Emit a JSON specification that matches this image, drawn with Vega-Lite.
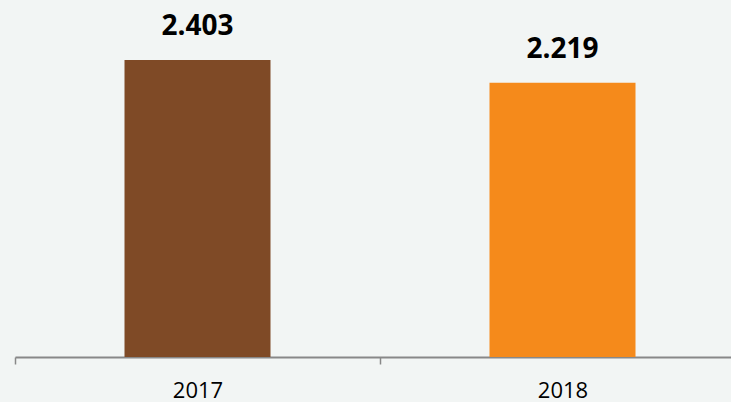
{
  "$schema": "https://vega.github.io/schema/vega-lite/v6.json",
  "width": 730,
  "height": 346,
  "padding": {"left": 15, "top": 11, "right": 0, "bottom": 45},
  "autosize": {"type": "none"},
  "background": "#f2f5f4",
  "config": {"view": {"stroke": null}},
  "data": {"values": [
    {"year": "2017", "value": 2.403, "label": "2.403"},
    {"year": "2018", "value": 2.219, "label": "2.219"}
  ]},
  "encoding": {
    "x": {
      "field": "year", "type": "nominal",
      "scale": {"paddingInner": 0, "paddingOuter": 0},
      "axis": {
        "title": null, "labelAngle": 0, "tickBand": "extent",
        "domainColor": "#888888", "domainWidth": 2,
        "tickColor": "#888888", "tickWidth": 1.5, "tickSize": 7,
        "labelFont": "Open Sans", "labelFontSize": 22, "labelColor": "#000000",
        "labelBaseline": "alphabetic", "labelPadding": 33
      }
    },
    "y": {
      "field": "value", "type": "quantitative",
      "scale": {"domain": [0, 2.8], "nice": false},
      "axis": null
    }
  },
  "layer": [
    {
      "mark": {"type": "bar", "width": {"band": 0.4}},
      "encoding": {
        "color": {
          "field": "year", "type": "nominal",
          "scale": {"domain": ["2017", "2018"], "range": ["#7f4a26", "#f58a1b"]},
          "legend": null
        }
      }
    },
    {
      "mark": {"type": "text", "font": "Open Sans", "fontWeight": "bold", "fontSize": 28, "color": "#000000", "baseline": "alphabetic", "dy": -25},
      "encoding": {"text": {"field": "label"}}
    }
  ]
}
